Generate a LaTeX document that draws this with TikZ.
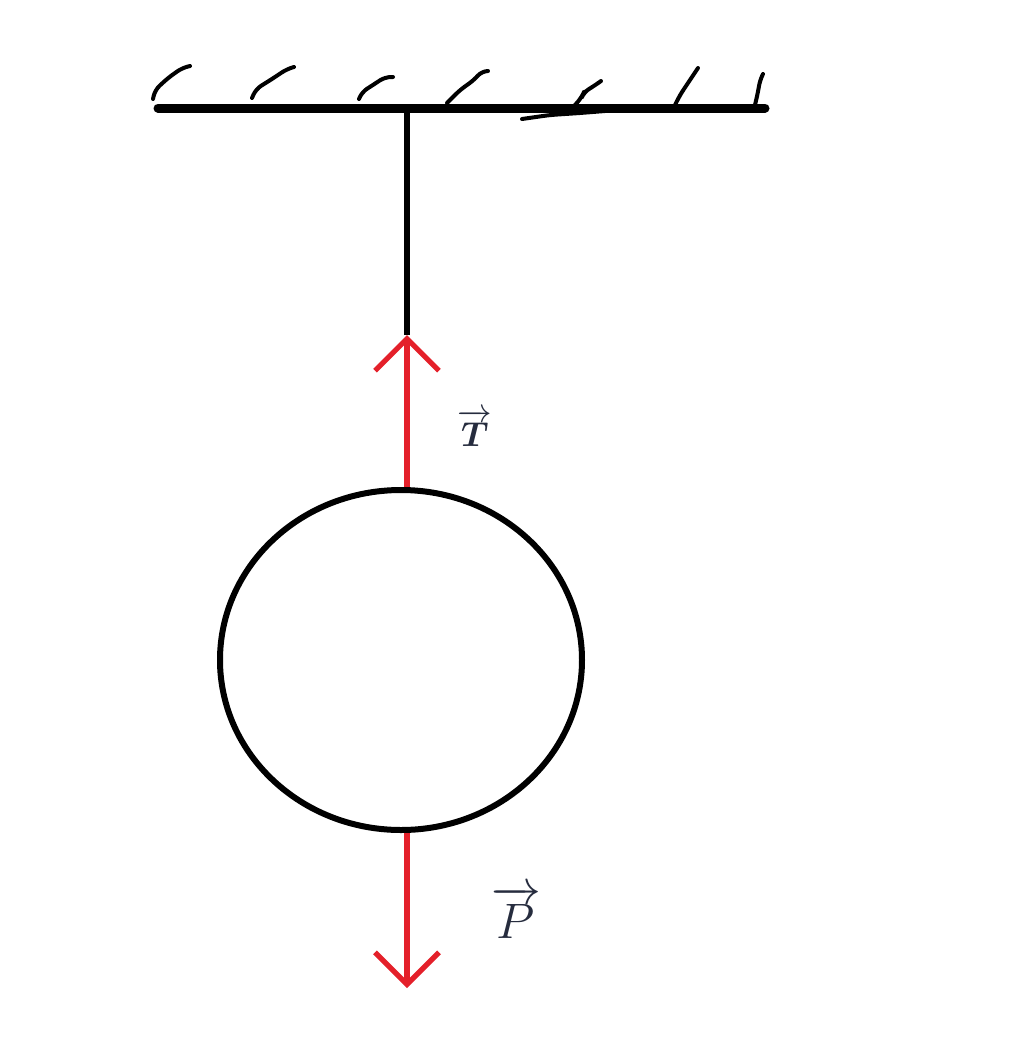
\documentclass[tikz,border=0pt]{standalone}
\usepackage{amsmath}
\usetikzlibrary{arrows.meta,shapes.geometric}
\definecolor{forcered}{RGB}{228,32,42}
\definecolor{labelink}{RGB}{38,44,62}
\begin{document}
\begin{tikzpicture}[x=0.5pt,y=-0.5pt,
  ceiling/.style={line width=4.5pt,line cap=round,black},
  hatch/.style={line width=2pt,line cap=round,line join=round,rounded corners=3pt,black},
  rope/.style={line width=2.6pt,black},
  force/.style={line width=2.6pt,forcered,-{Straight Barb[length=16pt,width=32pt,line width=2.6pt]}},
  lbl/.style={text=labelink,inner sep=0pt}]
\useasboundingbox (0,0) rectangle (1024,1040);
% ceiling
\coordinate (cl) at (158,108);
\coordinate (cr) at (765,108);
\coordinate (hook) at (407,108);
\draw[ceiling] (cl) -- (cr);
\draw[hatch] (153,99) -- (155,90) -- (168,78) -- (182,68) -- (190,66);
\draw[hatch] (252,98) -- (256,89) -- (272,79) -- (287,69) -- (294,67);
\draw[hatch] (359,99) -- (362,92) -- (376,83) -- (385,77) -- (393,77);
\draw[hatch] (447,103) -- (460,90) -- (474,80) -- (482,71) -- (488,71);
\draw[hatch] (575,105) -- (582,97) -- (584,92) -- (594,86) -- (601,81);
\draw[hatch] (672,111) -- (680,95) -- (690,80) -- (698,68);
\draw[hatch] (755,105) -- (758,92) -- (760,80) -- (763,74);
\draw[hatch] (522,119) -- (550,115) -- (580,113) -- (605,111);
% ball
\node[ellipse,draw,line width=3pt,minimum width=181pt,minimum height=170pt,inner sep=0pt] (ball) at (401,660) {};
% rope and forces
\coordinate (tip) at (407,335);
\coordinate (ptip) at (407,988);
\draw[rope] (hook) -- (tip);
\draw[force] ([xshift=3pt]ball.north) -- (tip);
\draw[force] ([xshift=3pt]ball.south) -- (ptip);
% labels
\node[lbl] (T) at (475,428) {\fontsize{18}{20}\selectfont$\overrightarrow{\boldsymbol{T}}$};
\node[lbl] (P) at (516,912) {\fontsize{27}{30}\selectfont$\overrightarrow{P}$};
\end{tikzpicture}
\end{document}
